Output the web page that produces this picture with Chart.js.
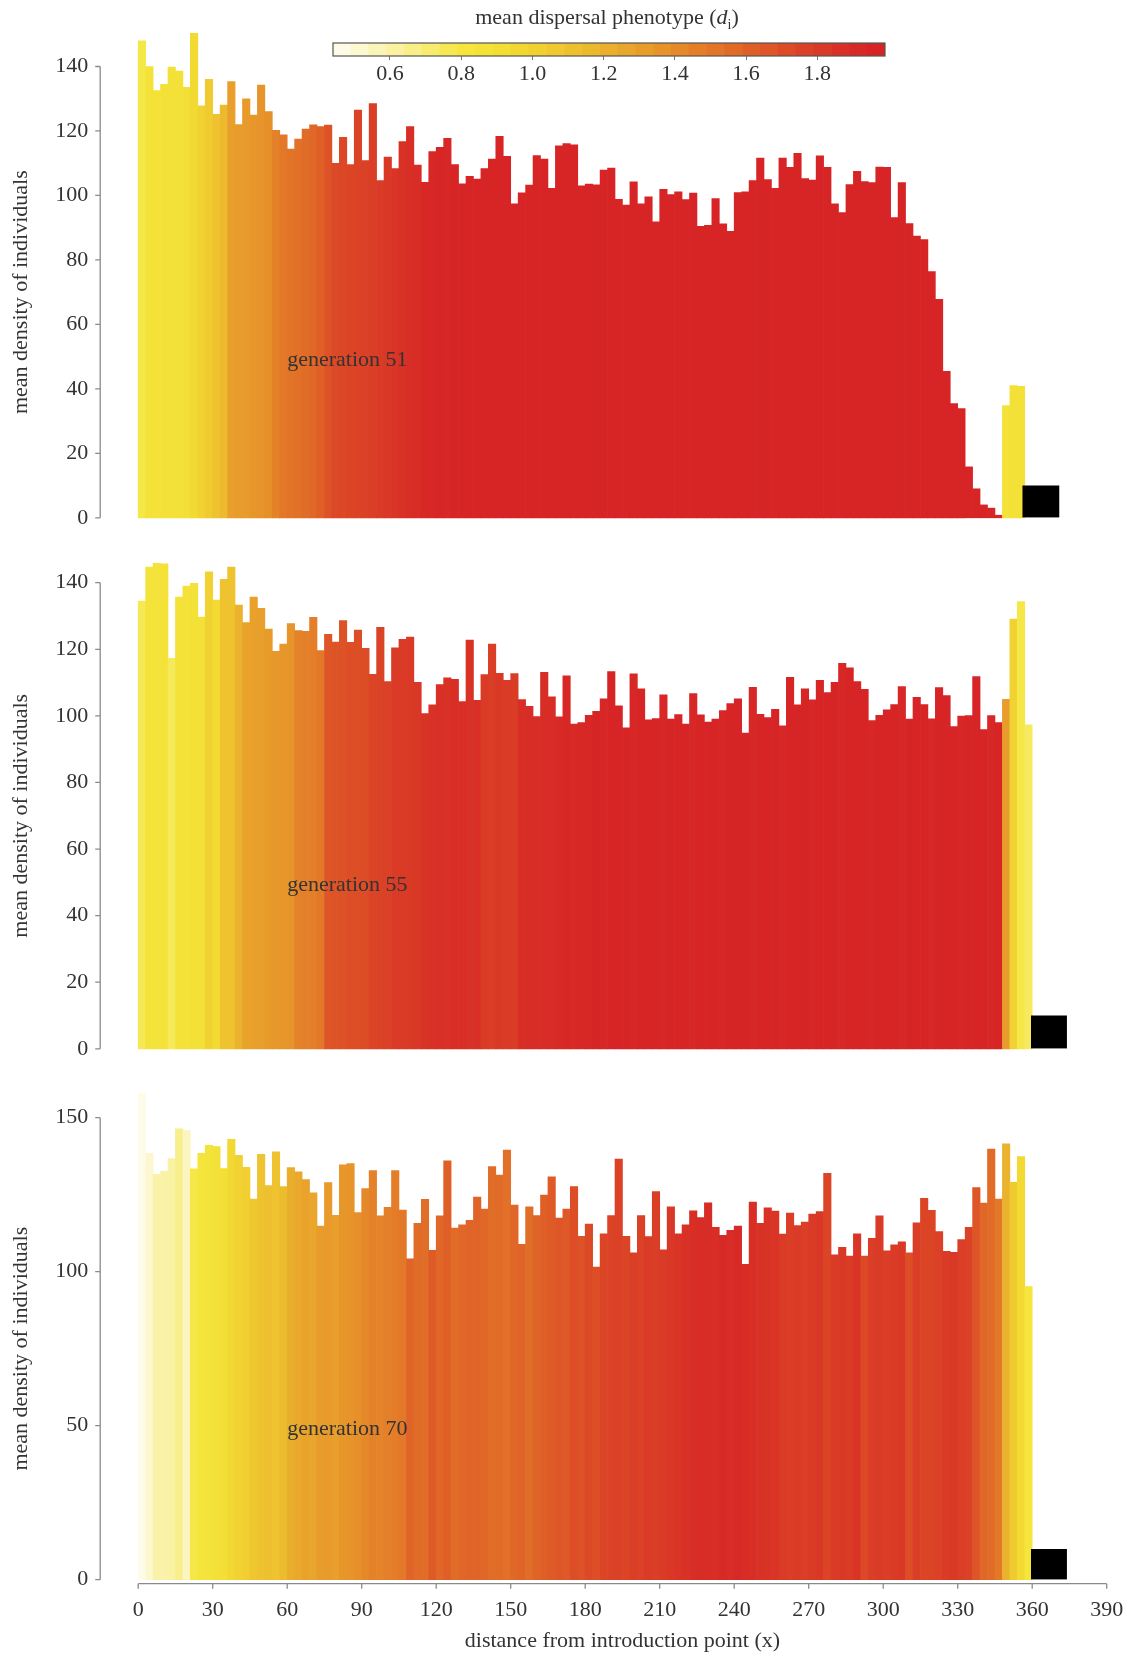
<!DOCTYPE html>
<html>
<head>
<meta charset="utf-8">
<script src="https://cdn.jsdelivr.net/npm/chart.js@4.4.1/dist/chart.umd.min.js"></script>
<style>
  html, body { margin: 0; padding: 0; background: #fff; }
  #page { position: relative; width: 1132px; height: 1654px; overflow: hidden; }
  canvas { position: absolute; left: 0; }
  #cbTitle {
    position: absolute; left: 407px; width: 400px; top: 4px; text-align: center;
    font: 22px "Liberation Serif", serif; color: #333; white-space: nowrap;
  }
  #cbTitle sub { font-size: 14px; }
</style>
</head>
<body>
<div id="page">
  <canvas id="gen51" width="1132" height="531" style="top:0px"></canvas>
  <canvas id="gen55" width="1132" height="532" style="top:530px"></canvas>
  <canvas id="gen70" width="1132" height="594" style="top:1060px"></canvas>
  <canvas id="cbar" width="620" height="60" style="left:300px;top:30px"></canvas>
  <div id="cbTitle">mean dispersal phenotype (<i>d</i><sub>i</sub>)</div>
</div>
<script>
// bins of 3 units along the landscape (left edge of each bin)
const binStart = [0,3,6,9,12,15,18,21,24,27,30,33,36,39,42,45,48,51,54,57,60,63,66,69,72,75,78,81,84,87,
  90,93,96,99,102,105,108,111,114,117,120,123,126,129,132,135,138,141,144,147,150,153,156,159,162,165,168,171,174,177,
  180,183,186,189,192,195,198,201,204,207,210,213,216,219,222,225,228,231,234,237,240,243,246,249,252,255,258,261,264,267,
  270,273,276,279,282,285,288,291,294,297,300,303,306,309,312,315,318,321,324,327,330,333,336,339,342,345,348,351,354,357];

// mean density per bin
const density51 = [148,140,132.5,134.5,139.8,138.6,133.5,150.3,127.8,136,
  125.2,128,135.3,122,130,124.9,134.2,126,120.2,118.8,
  114.4,117.5,120.6,121.9,121.4,121.8,110,118,109.6,126.5,
  110.8,128.5,104.6,111.9,108.3,116.7,121.4,109.4,104.1,113.6,
  114.9,117.7,109.6,103.6,105.9,105.1,108.3,111.3,118.3,112.1,
  97.4,100.8,103.2,112.4,111.3,102.2,115.4,116.1,115.7,103,
  103.5,103.3,107.9,108.5,98.8,97,104.2,97.4,99.6,91.8,
  101.9,100.3,101.1,98.7,100.7,90.4,90.7,99,91.2,88.9,
  100.9,101.1,104.6,111.6,104.9,102.2,111.6,108.7,113.1,105.2,
  104.8,112.3,108.7,97.4,94.7,103.4,107.5,104.3,104,108.8,
  108.7,93.1,104,91.3,87.4,86.3,76.4,67.8,45.4,35.4,
  33.9,15.8,9,4,3,0.8,34.8,41,40.8,null];

const density55 = [134.5,144.7,145.8,145.7,117.3,135.7,139,139.8,129.7,143.3,
  134.8,141,144.7,133.3,128,135.7,132.3,126.1,119.4,121.6,
  127.7,125.6,125.4,129.6,119.6,124.5,122.2,128.6,122.1,125.8,
  120.3,112.5,126.6,110.3,120.4,123,123.7,110.1,100.7,103.3,
  109.4,111.4,111,104.3,122.8,104.7,112.4,121.6,112.8,110.7,
  112.7,104.9,102.9,99.8,113.1,105.7,99.7,112,97.5,98,
  100.2,101.4,105.1,113.3,103,96.4,112.6,108.1,98.8,99.2,
  106.3,99,100.4,97.5,106.7,100.3,98.1,99,101.6,103.7,
  105.1,94.8,108.6,100.5,99.5,102,97,111.6,103.3,108.1,
  104.8,110.7,107,110.1,115.8,114.4,110.3,108,98.6,100.2,
  101.8,103.4,108.8,99,105.6,103.4,99.1,108.5,106.1,96.8,
  99.9,100.1,111.8,95.9,100.1,98,105,129.1,134.3,97.3];

const density70 = [157.9,138.4,131.6,132.6,136.7,146.4,145.8,133.4,138.4,141,
  140.6,133.5,143,137.8,133.9,123.6,138.1,128,138.9,127.6,
  133.8,132.4,129.9,125.6,114.8,128.9,118.3,134.7,135.1,119.2,
  127,132.8,118.1,120.9,132.8,120,104.2,115.7,123.5,106.9,
  118.1,136,114.2,115.2,116.7,124.2,120.3,134.1,131.4,139.5,
  121.6,108.9,121.1,118.2,124.9,130.8,117.4,120.3,127.6,111.5,
  115.5,101.5,112.3,118.2,136.6,111.5,106.1,118.2,111.4,126,
  107.1,121.1,112.3,115.2,119.8,117.6,122.4,114.4,111.8,113.4,
  114.8,102.4,122.6,115.7,120.7,119.7,112.2,119,115,116.1,
  118.7,119.5,131.9,105.5,107.9,105.1,112.3,105.1,110.8,118.1,
  106.8,108.7,109.7,106.1,115.9,123.8,119.9,113,106.6,106.3,
  110.4,114.4,127.3,122.3,139.8,123.6,141.5,129,137.4,95.2];

// mean dispersal phenotype per bin (drives the colour)
const pheno51 = [0.78,0.86,0.86,0.87,0.87,0.88,0.9,0.95,1.0,1.05,
  1.1,1.15,1.3,1.32,1.33,1.35,1.36,1.38,1.45,1.5,
  1.52,1.54,1.56,1.58,1.62,1.68,1.72,1.73,1.74,1.75,
  1.76,1.78,1.8,1.82,1.84,1.86,1.88,1.9,1.93,1.94,
  1.95,1.94,1.95,1.96,1.95,1.95,1.96,1.95,1.95,1.96,
  1.95,1.96,1.95,1.95,1.96,1.95,1.95,1.96,1.95,1.95,
  1.96,1.95,1.95,1.96,1.95,1.95,1.96,1.95,1.95,1.96,
  1.95,1.96,1.95,1.95,1.96,1.95,1.95,1.96,1.95,1.95,
  1.96,1.95,1.95,1.96,1.95,1.95,1.96,1.95,1.95,1.96,
  1.95,1.96,1.95,1.95,1.96,1.95,1.95,1.96,1.95,1.95,
  1.96,1.95,1.95,1.96,1.95,1.95,1.96,1.95,1.95,1.96,
  1.95,1.96,1.95,1.95,1.96,1.95,0.86,0.88,0.88,null];

const pheno55 = [0.76,0.85,0.85,0.86,0.75,0.86,0.86,0.87,0.88,1.0,
  0.94,1.1,1.1,1.2,1.28,1.29,1.3,1.33,1.34,1.35,
  1.36,1.45,1.46,1.47,1.5,1.66,1.67,1.68,1.7,1.7,
  1.71,1.74,1.75,1.76,1.8,1.8,1.81,1.82,1.85,1.86,
  1.87,1.86,1.88,1.88,1.86,1.87,1.8,1.78,1.82,1.8,
  1.79,1.88,1.9,1.9,1.89,1.9,1.92,1.93,1.92,1.93,
  1.94,1.95,1.94,1.95,1.96,1.95,1.94,1.95,1.96,1.95,
  1.94,1.95,1.96,1.95,1.94,1.95,1.96,1.95,1.94,1.95,
  1.96,1.95,1.94,1.95,1.96,1.95,1.94,1.95,1.96,1.95,
  1.94,1.95,1.96,1.95,1.94,1.95,1.96,1.95,1.94,1.95,
  1.96,1.95,1.94,1.95,1.96,1.95,1.94,1.95,1.96,1.95,
  1.94,1.95,1.96,1.95,1.94,1.95,1.32,1.0,0.78,0.74];

const pheno70 = [0.46,0.52,0.6,0.6,0.61,0.66,0.55,0.78,0.83,0.85,
  0.88,0.9,0.96,1.0,1.02,1.08,1.1,1.12,1.1,1.14,
  1.22,1.25,1.28,1.27,1.32,1.33,1.3,1.35,1.36,1.38,
  1.42,1.45,1.44,1.46,1.48,1.5,1.6,1.56,1.55,1.64,
  1.58,1.62,1.56,1.58,1.6,1.6,1.58,1.55,1.56,1.54,
  1.58,1.6,1.55,1.6,1.62,1.64,1.66,1.65,1.7,1.68,
  1.72,1.7,1.74,1.75,1.76,1.74,1.78,1.76,1.8,1.78,
  1.8,1.82,1.84,1.86,1.88,1.9,1.9,1.88,1.92,1.9,
  1.92,1.9,1.88,1.86,1.85,1.84,1.8,1.78,1.8,1.78,
  1.8,1.82,1.74,1.8,1.82,1.8,1.84,1.72,1.78,1.8,
  1.78,1.8,1.82,1.7,1.78,1.74,1.74,1.76,1.8,1.82,
  1.78,1.76,1.66,1.58,1.56,1.5,1.2,1.05,0.95,0.82];

// black block at the range front: [start, end, height]
const front51 = [356, 371, 10];
const front55 = [359.5, 374, 10];
const front70 = [359.5, 374, 10];

// colour bar levels and ticks
const cbLevels = [0.465,0.515,0.565,0.615,0.665,0.715,0.765,0.815,0.865,0.915,0.965,1.015,1.065,1.115,1.165,
  1.215,1.265,1.315,1.365,1.415,1.465,1.515,1.565,1.615,1.665,1.715,1.765,1.815,1.865,1.915,1.965];
const cbTicks = [0.6, 0.8, 1.0, 1.2, 1.4, 1.6, 1.8];
const xTicks = [0,30,60,90,120,150,180,210,240,270,300,330,360,390];

const FONT = '"Liberation Serif", serif';
Chart.defaults.font.family = FONT;
Chart.defaults.color = '#333';

// white -> yellow -> orange -> red
const stops = [
  [0.44, 255,254,242], [0.55, 251,245,192], [0.68, 248,238,130], [0.8, 245,230,62],
  [0.92, 243,222,52], [1.05, 240,203,48], [1.2, 235,178,45], [1.35, 231,150,42],
  [1.5, 227,120,40], [1.62, 223,95,39], [1.75, 219,67,38], [1.88, 216,46,38], [2.0, 214,31,38]
];
function phenoColor(v) {
  if (v == null) return 'rgba(0,0,0,0)';
  if (v <= stops[0][0]) return `rgb(${stops[0][1]},${stops[0][2]},${stops[0][3]})`;
  for (let i = 1; i < stops.length; i++) {
    if (v <= stops[i][0]) {
      const a = stops[i - 1], b = stops[i];
      const t = (v - a[0]) / (b[0] - a[0]);
      const c = [1, 2, 3].map(k => Math.round(a[k] + (b[k] - a[k]) * t));
      return `rgb(${c[0]},${c[1]},${c[2]})`;
    }
  }
  const l = stops[stops.length - 1];
  return `rgb(${l[1]},${l[2]},${l[3]})`;
}

// detached y spine, optional x spine and the generation label
const decor = {
  id: 'decor',
  afterDatasetsDraw(chart, args, opts) {
    const {ctx, chartArea, scales: {x, y}} = chart;
    ctx.save();
    ctx.strokeStyle = '#8a8a8a';
    ctx.lineWidth = 1.3;
    ctx.beginPath();
    const sx = chartArea.left - 38;
    ctx.moveTo(sx, y.getPixelForValue(0));
    ctx.lineTo(sx, y.getPixelForValue(opts.yTop));
    y.ticks.forEach(t => {
      const py = y.getPixelForValue(t.value);
      ctx.moveTo(sx - 5, py);
      ctx.lineTo(sx, py);
    });
    if (opts.xSpine) {
      const py = y.getPixelForValue(0) + 4;
      ctx.moveTo(x.getPixelForValue(0), py);
      ctx.lineTo(x.getPixelForValue(390), py);
      x.ticks.forEach(t => {
        const px = x.getPixelForValue(t.value);
        ctx.moveTo(px, py);
        ctx.lineTo(px, py + 5);
      });
    }
    ctx.stroke();
    ctx.fillStyle = '#333';
    ctx.font = '22px ' + FONT;
    ctx.textBaseline = 'middle';
    ctx.fillText(opts.label, x.getPixelForValue(60), y.getPixelForValue(49));
    ctx.restore();
  }
};

function panel(id, density, pheno, front, opts) {
  const bars = binStart.map((s, i) => ({x: s + 1.5, y: density[i]}));
  const box = [
    {x: front[0], y: 0}, {x: front[0], y: front[2]},
    {x: front[1], y: front[2]}, {x: front[1], y: 0}
  ];
  new Chart(document.getElementById(id), {
    type: 'bar',
    data: {
      datasets: [
        {
          type: 'bar',
          data: bars,
          backgroundColor: pheno.map(phenoColor),
          borderWidth: 0,
          barPercentage: 1,
          categoryPercentage: 1,
          clip: false,
          order: 2
        },
        {
          type: 'line',
          data: box,
          backgroundColor: '#000',
          borderColor: '#000',
          borderWidth: 0,
          pointRadius: 0,
          fill: 'origin',
          tension: 0,
          clip: false,
          order: 1
        }
      ]
    },
    options: {
      responsive: false,
      maintainAspectRatio: false,
      animation: false,
      devicePixelRatio: 1,
      layout: {padding: {top: opts.padTop, bottom: opts.padBottom, left: 0, right: 25.3}},
      plugins: {
        legend: {display: false},
        tooltip: {enabled: false},
        decor: {label: opts.label, yTop: opts.yMax, xSpine: opts.showX}
      },
      scales: {
        x: {
          type: 'linear',
          min: 0,
          max: 390,
          offset: false,
          display: true,
          afterBuildTicks: axis => { axis.ticks = xTicks.map(v => ({value: v})); },
          afterFit: s => { s.height = opts.showX ? 74.3 : 0; },
          // invisible tick length is used only to push the labels down
          grid: {display: false, offset: false, drawTicks: true, tickLength: 17},
          border: {display: false},
          ticks: {display: opts.showX, autoSkip: false, maxRotation: 0, padding: 0, font: {size: 22}, color: '#333'},
          title: {
            display: opts.showX,
            text: 'distance from introduction point (x)',
            font: {size: 22},
            color: '#333',
            padding: {top: 0, bottom: 0}
          }
        },
        y: {
          min: 0,
          max: opts.yMax,
          afterFit: s => { s.width = 138.2; },
          // invisible tick length keeps the labels clear of the detached spine
          grid: {display: false, drawTicks: true, tickLength: 50},
          border: {display: false},
          ticks: {stepSize: opts.yStep, padding: 0, font: {size: 22}, color: '#333'},
          title: {
            display: true,
            text: 'mean density of individuals',
            font: {size: 22},
            color: '#333',
            padding: {top: 8, bottom: 0}
          }
        }
      }
    },
    plugins: [decor]
  });
}

panel('gen51', density51, pheno51, front51,
  {label: 'generation 51', yMax: 140, yStep: 20, padTop: 66.5, padBottom: 13, showX: false});
panel('gen55', density55, pheno55, front55,
  {label: 'generation 55', yMax: 140, yStep: 20, padTop: 52.7, padBottom: 13, showX: false});
panel('gen70', density70, pheno70, front70,
  {label: 'generation 70', yMax: 150, yStep: 50, padTop: 57.7, padBottom: 0, showX: true});

// colour bar
const cbFrame = {
  id: 'cbFrame',
  afterDatasetsDraw(chart) {
    const {ctx, chartArea: a} = chart;
    ctx.save();
    ctx.strokeStyle = '#555';
    ctx.lineWidth = 1.2;
    ctx.strokeRect(a.left, a.top, a.right - a.left, a.bottom - a.top);
    ctx.restore();
  }
};

new Chart(document.getElementById('cbar'), {
  type: 'bar',
  data: {
    datasets: [{
      data: cbLevels.map(v => ({x: v, y: 1})),
      backgroundColor: cbLevels.map(phenoColor),
      borderWidth: 0,
      barPercentage: 1,
      categoryPercentage: 1
    }]
  },
  options: {
    responsive: false,
    maintainAspectRatio: false,
    animation: false,
    devicePixelRatio: 1,
    layout: {padding: {top: 13, left: 33, right: 35, bottom: 0}},
    plugins: {legend: {display: false}, tooltip: {enabled: false}},
    scales: {
      x: {
        type: 'linear',
        min: 0.44,
        max: 1.99,
        offset: false,
        afterBuildTicks: axis => { axis.ticks = cbTicks.map(v => ({value: v})); },
        afterFit: s => { s.height = 34; },
        grid: {display: true, offset: false, drawOnChartArea: false, drawTicks: true, tickLength: 4, color: '#777'},
        border: {display: false},
        ticks: {padding: 1, font: {size: 22}, color: '#333', callback: v => v.toFixed(1)}
      },
      y: {display: false, min: 0, max: 1}
    }
  },
  plugins: [cbFrame]
});
</script>
</body>
</html>
